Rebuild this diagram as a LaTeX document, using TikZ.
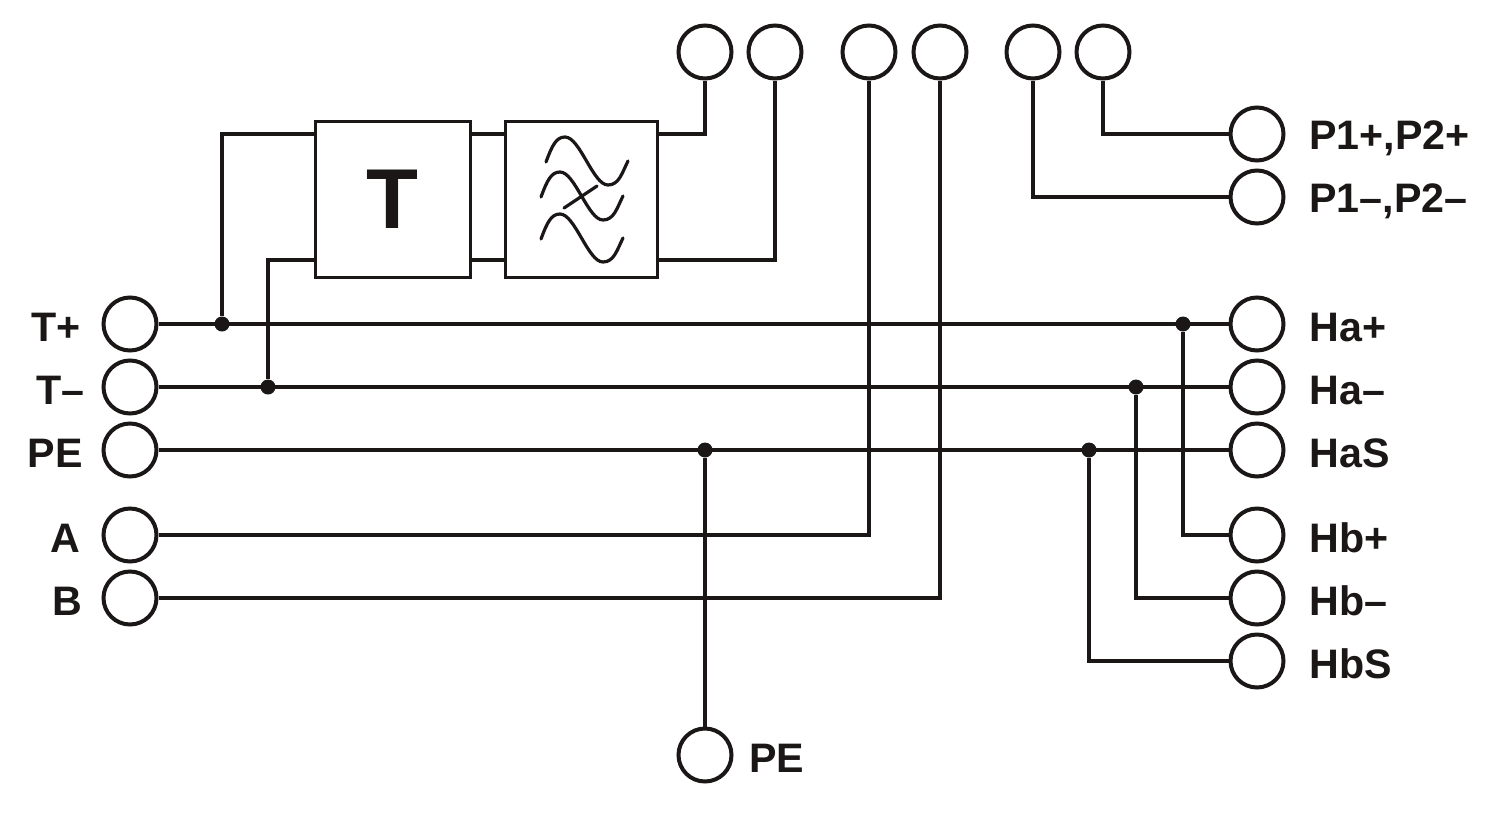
\documentclass[tikz,border=0pt]{standalone}
\usepackage{fontspec}
\setmainfont{Liberation Sans}
\definecolor{ink}{HTML}{1A1716}
\tikzset{
  term/.style={circle,draw=ink,line width=2pt,minimum size=26.5pt,inner sep=0pt},
  bx/.style={draw=ink,line width=1.5pt,inner sep=0pt},
  jn/.style={circle,fill=ink,inner sep=0pt,minimum size=7.5pt},
  lbl/.style={text=ink,font=\bfseries\fontsize{20.6}{20.6}\selectfont,inner sep=0pt},
  wire/.style={draw=ink,line width=2pt,line join=miter},
  thinwire/.style={draw=ink,line width=1.6pt,line cap=round}
}
\begin{document}
\begin{tikzpicture}[x=0.5pt,y=-0.5pt]
      \useasboundingbox (0,0) rectangle (1500,820);
      % left terminals
      \node[term] (Tp) at (130,324) {};
      \node[term] (Tm) at (130,387) {};
      \node[term] (PEl) at (130,450) {};
      \node[term] (A) at (130,535) {};
      \node[term] (B) at (130,598) {};
      % right terminals
      \node[term] (Pp) at (1257,134) {};
      \node[term] (Pm) at (1257,197) {};
      \node[term] (Hap) at (1257,324) {};
      \node[term] (Ham) at (1257,387) {};
      \node[term] (HaS) at (1257,450) {};
      \node[term] (Hbp) at (1257,535) {};
      \node[term] (Hbm) at (1257,598) {};
      \node[term] (HbS) at (1257,661) {};
      % top terminals
      \node[term] (Ta) at (705,52) {};
      \node[term] (Tb) at (775,52) {};
      \node[term] (Tc) at (869,52) {};
      \node[term] (Td) at (940,52) {};
      \node[term] (Te) at (1033,52) {};
      \node[term] (Tf) at (1103,52) {};
      \node[term] (PEb) at (705,755) {};

      % boxes
      \node[bx,text=ink,minimum width=77.5pt,minimum height=78pt,font=\bfseries\fontsize{42.5}{42.5}\selectfont] (TB) at (392.5,199) {T};
      \node[bx,minimum width=76pt,minimum height=78pt] (FB) at (581.5,199) {};
      \foreach \cx/\cy in {546/162,541/197,541/239}
        \draw[thinwire] (\cx,\cy) .. controls +(6,-16) and +(-9,0) .. ++(19,-25)
          .. controls +(15,0) and +(-15,0) .. ++(43,48)
          .. controls +(11,0) and +(-6,12) .. ++(20,-24);
      \coordinate (xa) at (564,208);
      \coordinate (xb) at (597,186);
      \draw[thinwire] (xa) -- (xb);

      % junctions
      \node[jn] (J1) at (222,324) {};
      \node[jn] (J2) at (268,387) {};
      \node[jn] (J3) at (705,450) {};
      \node[jn] (J4) at (1183,324) {};
      \node[jn] (J5) at (1136,387) {};
      \node[jn] (J6) at (1089,450) {};

      % box side points
      \coordinate (TBa) at (TB.west |- 0,134);
      \coordinate (TBb) at (TB.west |- 0,260);
      \coordinate (TBc) at (TB.east |- 0,134);
      \coordinate (TBd) at (TB.east |- 0,260);
      \coordinate (FBa) at (FB.west |- 0,134);
      \coordinate (FBb) at (FB.west |- 0,260);
      \coordinate (FBc) at (FB.east |- 0,134);
      \coordinate (FBd) at (FB.east |- 0,260);

      % wires
      \draw[wire] (Tp) -- (Hap);
      \draw[wire] (Tm) -- (Ham);
      \draw[wire] (PEl) -- (HaS);
      \draw[wire] (J1) |- (TBa);
      \draw[wire] (J2) |- (TBb);
      \draw[wire] (TBc) -- (FBa);
      \draw[wire] (TBd) -- (FBb);
      \draw[wire] (FBc) -| (Ta);
      \draw[wire] (FBd) -| (Tb);
      \draw[wire] (A) -| (Tc);
      \draw[wire] (B) -| (Td);
      \draw[wire] (Te) |- (Pm);
      \draw[wire] (Tf) |- (Pp);
      \draw[wire] (J3) -- (PEb);
      \draw[wire] (J4) |- (Hbp);
      \draw[wire] (J5) |- (Hbm);
      \draw[wire] (J6) |- (HbS);

      % labels
      \node[lbl,anchor=base east] (lTp) at (81,341) {T+};
      \node[lbl,anchor=base east] (lTm) at (85,404) {T–};
      \node[lbl,anchor=base east] (lPE) at (83,467) {PE};
      \node[lbl,anchor=base east] (lA) at (81,552) {A};
      \node[lbl,anchor=base east] (lB) at (83,615) {B};
      \node[lbl,anchor=base west] (lPp) at (1309,149) {P1+,P2+};
      \node[lbl,anchor=base west] (lPm) at (1309,212) {P1–,P2–};
      \node[lbl,anchor=base west] (lHap) at (1309,341) {Ha+};
      \node[lbl,anchor=base west] (lHam) at (1309,404) {Ha–};
      \node[lbl,anchor=base west] (lHaS) at (1309,467) {HaS};
      \node[lbl,anchor=base west] (lHbp) at (1309,552) {Hb+};
      \node[lbl,anchor=base west] (lHbm) at (1309,615) {Hb–};
      \node[lbl,anchor=base west] (lHbS) at (1309,678) {HbS};
      \node[lbl,anchor=base west] (lPEb) at (749,772) {PE};
    \end{tikzpicture}
\end{document}
